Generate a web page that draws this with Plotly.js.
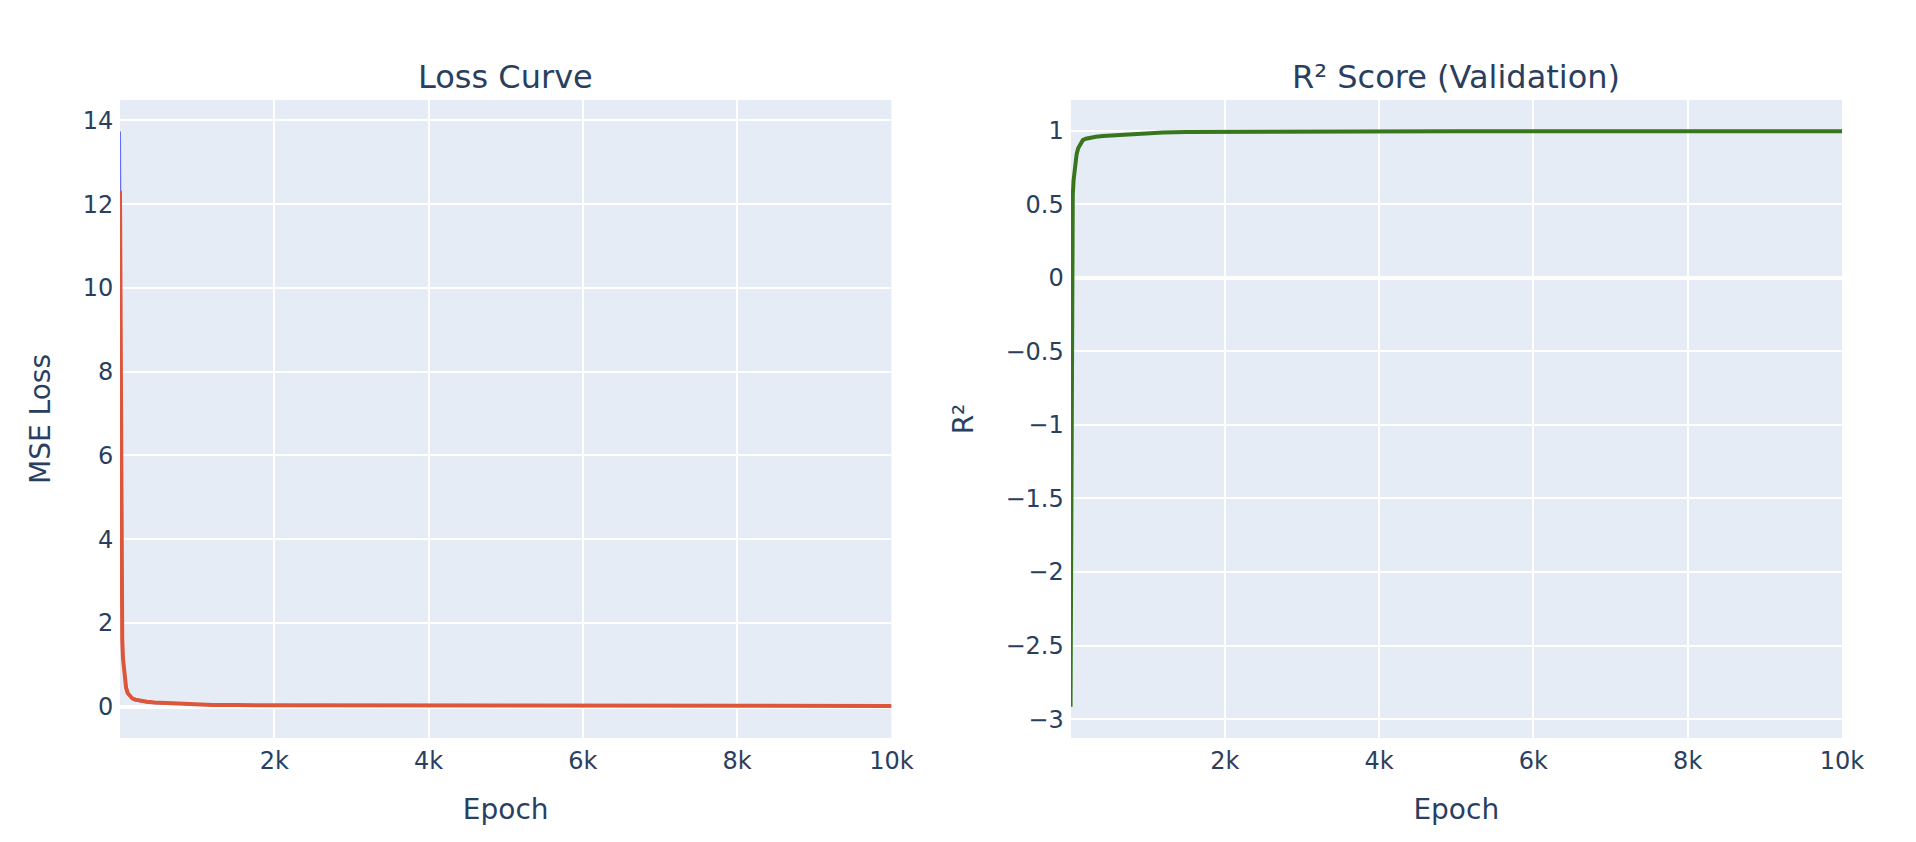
<!DOCTYPE html>
<html>
<head>
<meta charset="utf-8">
<script src="https://cdn.plot.ly/plotly-3.0.1.min.js"></script>
<style>
  html, body { margin: 0; padding: 0; background: #ffffff; }
  #outer { width: 1916px; height: 842px; position: relative; overflow: hidden; }
  #wrap { position: absolute; left: 0; top: 0; width: 958px; height: 421px; transform: scale(2); transform-origin: 0 0; }
  #chart { width: 958px; height: 421px; }
</style>
</head>
<body>
<div id="outer"><div id="wrap"><div id="chart"></div></div></div>
<script>
// ---- Data ----
const lossEpochs = [1, 5, 10, 15, 20, 25, 30, 40, 50, 65, 80, 100, 130, 160, 200, 260, 350, 450, 600, 800, 1000, 1200, 1500, 2000, 3000, 4000, 5000, 6000, 7000, 8000, 9000, 10000];
const trainLoss  = [13.73, 10.5, 7.0, 4.5, 3.0, 2.1, 1.6, 1.1, 0.8, 0.57, 0.43, 0.31, 0.23, 0.18, 0.15, 0.12, 0.10, 0.085, 0.07, 0.058, 0.048, 0.042, 0.038, 0.035, 0.032, 0.030, 0.028, 0.026, 0.024, 0.022, 0.020, 0.018];
const valLoss    = [12.32, 9.5, 6.5, 4.2, 2.8, 2.0, 1.6, 1.15, 0.85, 0.6, 0.45, 0.33, 0.25, 0.2, 0.17, 0.14, 0.12, 0.10, 0.085, 0.07, 0.055, 0.045, 0.04, 0.037, 0.034, 0.032, 0.030, 0.028, 0.026, 0.024, 0.022, 0.020];

const r2Epochs = [1, 3, 5, 8, 10, 13, 15, 20, 25, 30, 40, 50, 64, 80, 100, 130, 160, 200, 260, 330, 420, 600, 800, 1000, 1200, 1500, 2000, 3000, 4000, 5000, 6000, 7000, 8000, 9000, 10000];
const r2Val    = [-2.915, -2.2, -1.6, -0.9, -0.5, -0.05, 0.15, 0.35, 0.48, 0.56, 0.66, 0.72, 0.80, 0.84, 0.88, 0.915, 0.935, 0.945, 0.953, 0.958, 0.963, 0.970, 0.977, 0.983, 0.988, 0.991, 0.993, 0.994, 0.995, 0.995, 0.995, 0.996, 0.996, 0.996, 0.996];

const subplotTitles = ["Loss Curve", "R² Score (Validation)"];
const xTitle = "Epoch";
const yTitles = ["MSE Loss", "R²"];

// ---- Chart ----
const traces = [
  { x: lossEpochs, y: trainLoss, type: "scatter", mode: "lines", name: "Train Loss",
    line: { color: "#636EFA", width: 1 }, xaxis: "x", yaxis: "y" },
  { x: lossEpochs, y: valLoss, type: "scatter", mode: "lines", name: "Val Loss",
    line: { color: "rgb(221,86,58)", width: 2 }, xaxis: "x", yaxis: "y" },
  { x: r2Epochs, y: r2Val, type: "scatter", mode: "lines", name: "R²",
    line: { color: "#38761D", width: 2 }, xaxis: "x2", yaxis: "y2" }
];

const axisCommon = {
  gridcolor: "white", linecolor: "white", zerolinecolor: "white", zerolinewidth: 2,
  ticks: "", automargin: false, tickfont: { size: 12 }
};

const layout = {
  width: 958, height: 421,
  margin: { l: 60, r: 37, t: 50, b: 52 },
  paper_bgcolor: "white", plot_bgcolor: "#E5ECF6",
  font: { family: "'DejaVu Sans', Verdana, sans-serif", color: "#2a3f5f", size: 12 },
  showlegend: false,
  xaxis: Object.assign({}, axisCommon, { domain: [0, 0.448], anchor: "y", range: [1, 10000],
    title: { text: xTitle, font: { size: 14 }, standoff: 13 } }),
  yaxis: Object.assign({}, axisCommon, { domain: [0, 1], anchor: "x", range: [-0.745, 14.485],
    title: { text: yTitles[0], font: { size: 14 }, standoff: 12 } }),
  xaxis2: Object.assign({}, axisCommon, { domain: [0.552, 1], anchor: "y2", range: [1, 10000],
    title: { text: xTitle, font: { size: 14 }, standoff: 13 } }),
  yaxis2: Object.assign({}, axisCommon, { domain: [0, 1], anchor: "x2", range: [-3.128, 1.208],
    title: { text: yTitles[1], font: { size: 14 }, standoff: 12 } }),
  annotations: [
    { text: subplotTitles[0], x: 0.224, xref: "paper", y: 1, yref: "paper",
      xanchor: "center", yanchor: "bottom", showarrow: false, font: { size: 16 } },
    { text: subplotTitles[1], x: 0.776, xref: "paper", y: 1, yref: "paper",
      xanchor: "center", yanchor: "bottom", showarrow: false, font: { size: 16 } }
  ]
};

Plotly.newPlot("chart", traces, layout, { displayModeBar: false, staticPlot: true });
</script>
</body>
</html>
